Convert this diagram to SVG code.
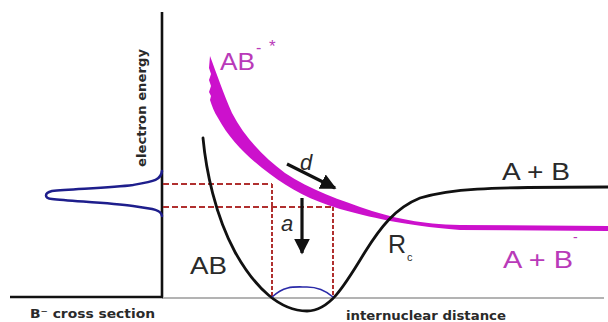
<svg xmlns="http://www.w3.org/2000/svg" width="608" height="322" viewBox="0 0 608 322">
<style>
.lbl{font-family:"DejaVu Sans","Liberation Sans",sans-serif;font-size:13px;font-weight:bold;fill:#2a2a2a}
.big{font-family:"Liberation Sans","DejaVu Sans",sans-serif;font-size:23px;fill:#2a2a2a}
.mag{fill:#b93ab9}
.it{font-family:"Liberation Sans","DejaVu Sans",sans-serif;font-style:italic;font-size:22px;fill:#2a2a2a}
.dash{fill:none;stroke:#b0302f;stroke-width:2;stroke-dasharray:6 3}
.vdash{fill:none;stroke:#b0302f;stroke-width:2;stroke-dasharray:4 2}
.blue{fill:none;stroke:#1e1e8c;stroke-width:2.5;stroke-linecap:round}
.curve{fill:none;stroke:#111;stroke-width:2.8;stroke-linecap:round}
.arrow{stroke:#111;stroke-width:3.2;fill:none}
</style>
<defs>
<marker id="ah" viewBox="0 0 10 10" refX="9" refY="5" markerWidth="5" markerHeight="5" markerUnits="strokeWidth" orient="auto">
<path d="M0,0 L10,5 L0,10 Z" fill="#111"/>
</marker>
</defs>
<rect width="608" height="322" fill="#fff"/>
<g id="axes">
<line x1="162" y1="298" x2="604" y2="298" stroke="#9a9a9a" stroke-width="1.6"/>
<line x1="162" y1="12" x2="162" y2="297" stroke="#111" stroke-width="2.6"/>
<line x1="10" y1="297" x2="163" y2="297" stroke="#111" stroke-width="2.6"/>
</g>
<g id="cross-section">
<path class="blue" d="M162,171 C161,180 155,181 133,185 C110,188 70,189 52,191 C44,193 44,198 52,199 C70,201 110,203 133,206 C155,209 161,210 162,216"/>
</g>
<g id="projections">
<line class="dash" x1="163" y1="184" x2="272" y2="184"/>
<line class="dash" x1="163" y1="207" x2="333" y2="207"/>
<line class="vdash" x1="272" y1="184" x2="272" y2="297"/>
<line class="vdash" x1="333" y1="207" x2="333" y2="297"/>
</g>
<g id="anion-curve">
<path fill="#cc11cc" d="M210,56 C216,72 224,95 232,113 C244,136 262,156 285,173 C310,190 340,200 372,211 C395,218 420,224 460,225 L608,226 L608,231 L460,230 C400,225 370,217 340,209 C310,200 290,189 270,174 C248,158 230,140 218,118 C214,112 212,106 210,100 L211,96 L209,92 L211,86 L209,80 L211,74 L209,68 Z"/>
</g>
<g id="neutral-curve">
<path class="curve" d="M203,138 C206,170 215,215 235,252 C255,288 280,311 307,311 C330,311 345,285 365,252 C380,228 395,208 420,198 C450,189 480,187 608,187"/>
<path d="M272,297 C285,285 295,287 307,287 C318,287 325,290 333,297" fill="none" stroke="#2a2aa8" stroke-width="1.6"/>
</g>
<g id="connectors">
<line class="arrow" x1="287" y1="164" x2="335" y2="188" marker-end="url(#ah)"/>
<line class="arrow" x1="302" y1="198" x2="302" y2="253" marker-end="url(#ah)"/>
</g>
<g id="labels">
<text class="lbl" x="146" y="108" text-anchor="middle" transform="rotate(-90 146 108)" textLength="118" lengthAdjust="spacingAndGlyphs">electron energy</text>
<text class="lbl" x="30" y="318" textLength="125" lengthAdjust="spacingAndGlyphs">B⁻ cross section</text>
<text class="lbl" x="346" y="320" textLength="160" lengthAdjust="spacingAndGlyphs">internuclear distance</text>
<text class="big" x="190" y="274" textLength="37" lengthAdjust="spacingAndGlyphs">AB</text>
<text class="big mag" x="220" y="70" textLength="35" lengthAdjust="spacingAndGlyphs">AB</text>
<text class="big mag" x="256" y="53" style="font-size:16px">-</text>
<text class="big mag" x="269" y="52" style="font-size:17px">*</text>
<text class="big" x="502" y="180" textLength="68" lengthAdjust="spacingAndGlyphs">A + B</text>
<text class="big mag" x="503" y="268" textLength="70" lengthAdjust="spacingAndGlyphs">A + B</text>
<text class="big mag" x="573" y="242" style="font-size:14px">-</text>
<text class="big" x="388" y="253" style="font-size:25px">R</text>
<text class="big" x="407" y="261" style="font-size:11px">c</text>
<text class="it" x="300" y="170">d</text>
<text class="it" x="281" y="231">a</text>
</g>
</svg>
